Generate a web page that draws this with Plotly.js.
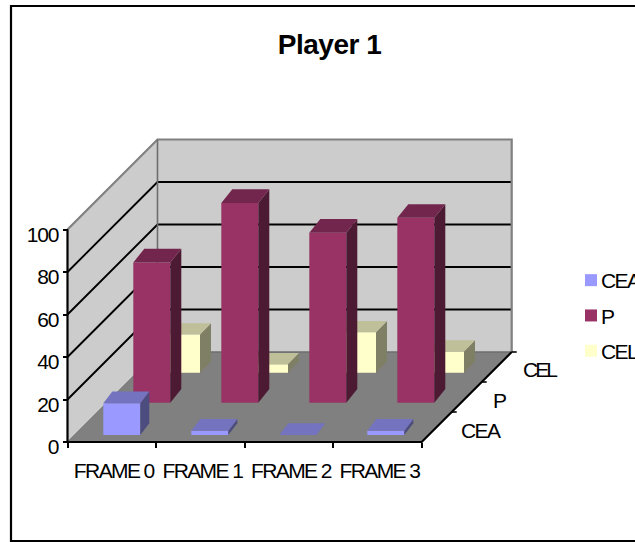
<!DOCTYPE html>
<html>
<head>
<meta charset="utf-8">
<script src="https://cdn.plot.ly/plotly-3.0.1.min.js"></script>
<style>
  html, body { margin: 0; padding: 0; background: #fff; overflow: hidden; }
  #chart { width: 635px; height: 542px; }
  .xtick text, .annotation-text, .legendtext { letter-spacing: -1.6px; }
  .ytick text { letter-spacing: -1.2px; }
  .gtitle { letter-spacing: -0.5px; }
  .annotation[data-index="2"] .annotation-text { letter-spacing: -3px; }
  .legendtext { transform: translateX(-10px); }
</style>
</head>
<body>
<div id="chart"></div>
<script>
// Values per series and frame
const categories = ['FRAME 0', 'FRAME 1', 'FRAME 2', 'FRAME 3'];
const seriesNames = ['CEA', 'P', 'CEL'];
const valuesCEA = [15, 2, 0, 2];
const valuesP = [66, 94, 80, 87];
const valuesCEL = [18, 4, 19, 10];
const valueTicks = [0, 20, 40, 60, 80, 100];
const seriesValues = [valuesCEA, valuesP, valuesCEL];

// Face colours per series: front, top, side
const faceColors = [
  ['#9999ff', '#7373bf', '#4c4c7f'],
  ['#993366', '#73264d', '#4d1a33'],
  ['#ffffcc', '#bfbf99', '#7f7f66']
];

// Oblique projection: the depth axis runs up and to the right at 45 degrees
const W = 635, H = 542;
const originX = 67.5, originY = 442;   // where value 0 meets the first category
const pxPerCat = 88.55, pxPerVal = 2.125, pxPerDepth = 30;
const DEPTH = 3;

const catRange = [-originX / pxPerCat, (W - originX) / pxPerCat];
const valRange = [-(H - originY) / pxPerVal, originY / pxPerVal];

// Category/value/depth to plot coordinates; sx and sy are extra screen offsets
function proj(c, v, d, sx, sy) {
  return [
    c + (d * pxPerDepth + (sx || 0)) / pxPerCat,
    v + (d * pxPerDepth + (sy || 0)) / pxPerVal
  ];
}

function poly(points, color) {
  return {
    type: 'scatter', mode: 'none', fill: 'toself', fillcolor: color,
    x: points.map(p => p[0]), y: points.map(p => p[1]),
    showlegend: false, hoverinfo: 'skip'
  };
}

function path(points, color, width) {
  return {
    type: 'scatter', mode: 'lines',
    line: { color: color, width: width, simplify: false },
    x: points.map(p => p ? p[0] : null), y: points.map(p => p ? p[1] : null),
    showlegend: false, hoverinfo: 'skip'
  };
}

const traces = [];

// Walls and floor
traces.push(poly([proj(0,0,0), proj(0,0,DEPTH), proj(0,100,DEPTH), proj(0,100,0)], '#cccccc'));
traces.push(poly([proj(0,0,DEPTH), proj(4,0,DEPTH), proj(4,100,DEPTH), proj(0,100,DEPTH)], '#cccccc'));
traces.push(poly([proj(0,0,0), proj(4,0,0), proj(4,0,DEPTH), proj(0,0,DEPTH)], '#808080'));

// Horizontal gridlines across the side and back walls
const gridPts = [];
valueTicks.slice(1, -1).forEach(v => {
  gridPts.push(proj(0,v,0), proj(0,v,DEPTH), proj(4,v,DEPTH), null);
});
traces.push(path(gridPts, '#000000', 1.9));

// Wall outlines
traces.push(path([proj(0,100,0), proj(0,100,DEPTH), proj(4,100,DEPTH), proj(4,0,DEPTH)], '#808080', 2.2));
traces.push(path([proj(0,100,DEPTH), proj(0,0,DEPTH), proj(4,0,DEPTH)], '#6e6e6e', 1.6));
traces.push(path([proj(0,0,0), proj(0,0,DEPTH)], '#666666', 1));

// Bars, back row first so nearer rows cover them
const frontX = [35.8, 65.8, 95.5];    // screen offset of each row's front-left corner
const frontY = [7, 39.3, 69.3];
const barStep = 88 / pxPerCat;        // bars repeat slightly tighter than the category ticks
const barWidth = 37;
const barDepthX = [9, 11, 11];
const barDepthY = [11.7, 13.7, 11.3];

[2, 1, 0].forEach(s => {
  seriesValues[s].forEach((v, i) => {
    const c = i * barStep;
    const fx = frontX[s], fy = frontY[s];
    const rx = fx + barWidth, bx = barDepthX[s], by = barDepthY[s];
    if (v > 0) {
      traces.push(poly([proj(c,0,0,fx,fy), proj(c,0,0,rx,fy), proj(c,v,0,rx,fy), proj(c,v,0,fx,fy)], faceColors[s][0]));
      traces.push(poly([proj(c,0,0,rx,fy), proj(c,0,0,rx+bx,fy+by), proj(c,v,0,rx+bx,fy+by), proj(c,v,0,rx,fy)], faceColors[s][2]));
    }
    traces.push(poly([proj(c,v,0,fx,fy), proj(c,v,0,rx,fy), proj(c,v,0,rx+bx,fy+by), proj(c,v,0,fx+bx,fy+by)], faceColors[s][1]));
  });
});

// Axis lines and the depth axis ticks
traces.push(path([proj(0,100,0), proj(0,0,0), proj(4,0,0), proj(4,0,DEPTH)], '#000000', 2.2));
const depthTicks = [];
[1, 2, 3].forEach(d => { depthTicks.push(proj(4,0,d), proj(4,0,d,5,0), null); });
traces.push(path(depthTicks, '#000000', 1.6));

// Legend entries
seriesNames.forEach((name, s) => {
  traces.push({
    type: 'scatter', mode: 'markers', name: name, legendgroup: name,
    x: [null], y: [null],
    marker: { symbol: 'square', size: 12, color: faceColors[s][0] }
  });
});

const font = { family: '"Liberation Sans", Arial, sans-serif', size: 21, color: '#000000' };

// Depth axis labels beside the floor's right edge
const depthShiftX = [44.6, 33, 43];
const depthShiftY = [-3.7, -3.7, -2];
const annotations = seriesNames.map((name, s) => {
  const p = proj(4, 0, s + 0.5);
  return {
    text: name, x: p[0], y: p[1], xref: 'x', yref: 'y',
    xanchor: 'center', yanchor: 'middle', showarrow: false,
    xshift: depthShiftX[s], yshift: depthShiftY[s], font: font
  };
});

const layout = {
  width: W, height: H,
  margin: { l: 0, r: 0, t: 0, b: 0, pad: 0, autoexpand: false },
  paper_bgcolor: '#ffffff', plot_bgcolor: 'rgba(0,0,0,0)',
  title: {
    text: '<b>Player 1</b>',
    font: { family: font.family, size: 28, color: '#000000' },
    x: 329.5 / W, xanchor: 'center', xref: 'paper',
    y: 1 - 44 / H, yanchor: 'middle', yref: 'container'
  },
  xaxis: {
    range: catRange, fixedrange: true, showgrid: false, zeroline: false, showline: false,
    anchor: 'free', position: (H - originY) / H, automargin: false,
    tickmode: 'array',
    tickvals: categories.map((c, i) => i + 0.5),
    ticktext: categories,
    ticks: '', ticklen: 0, tickangle: 0,
    tickfont: font, ticklabelstandoff: 14, ticklabelshift: 2,
    minor: { tickmode: 'array', tickvals: [0, 1, 2, 3, 4], ticks: 'outside', ticklen: 5, tickwidth: 2, tickcolor: '#000000', showgrid: false }
  },
  yaxis: {
    range: valRange, fixedrange: true, showgrid: false, zeroline: false, showline: false,
    anchor: 'free', position: originX / W, automargin: false,
    tickmode: 'array', tickvals: valueTicks, ticktext: valueTicks.map(String),
    ticks: 'outside', ticklen: 5, tickwidth: 2, tickcolor: '#000000',
    tickfont: font, ticklabelshift: 5
  },
  legend: {
    x: 571 / W, xanchor: 'left', y: 1 - 260 / H, yanchor: 'top',
    orientation: 'v', bgcolor: 'rgba(0,0,0,0)', font: font,
    traceorder: 'grouped', tracegroupgap: 5
  },
  annotations: annotations,
  shapes: [{
    type: 'rect', xref: 'paper', yref: 'paper', layer: 'above',
    x0: 11 / W, x1: 1.05, y0: 1 - 541 / H, y1: 1 - 6 / H,
    line: { color: '#000000', width: 2.2 }, fillcolor: 'rgba(0,0,0,0)'
  }]
};

Plotly.newPlot('chart', traces, layout, { displayModeBar: false, staticPlot: true, responsive: false });
</script>
</body>
</html>
